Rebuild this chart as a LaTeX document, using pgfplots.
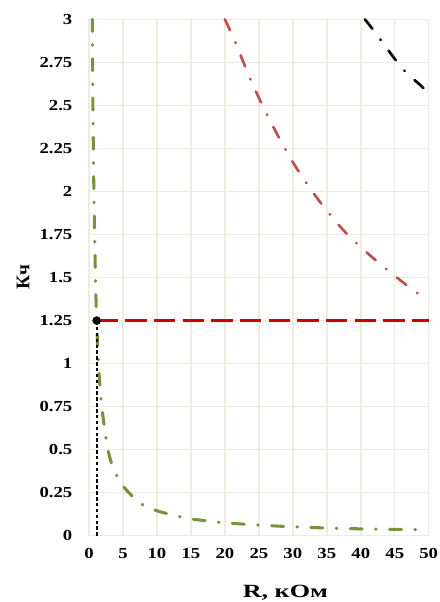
\documentclass[border=0pt]{standalone}
\usepackage{fontspec}
\setmainfont{Liberation Serif}
\newfontfamily\tickfont{Liberation Serif}[FakeStretch=1.22]
\newfontfamily\labfont{Liberation Serif}[FakeStretch=1.4]
\usepackage{pgfplots}
\pgfplotsset{compat=1.18}
\definecolor{gridc}{HTML}{EEECE1}
\definecolor{olive}{HTML}{77933C}
\definecolor{redc}{HTML}{C0504D}
\definecolor{dred}{HTML}{D00000}
\begin{document}
\begin{tikzpicture}
\path[use as bounding box] (-66.75pt,-49.7pt) rectangle (262.5pt,401.8pt);
\begin{axis}[
  scale only axis,
  width=254.8pt, height=387.3pt,
  xmin=0, xmax=50, ymin=0, ymax=3,
  xtick={0,5,...,50},
  xticklabels={0,5,10,15,20,25,30,35,40,45,50},
  ytick={0,0.25,...,3},
  yticklabels={0,0.25,0.5,0.75,1,1.25,1.5,1.75,2,2.25,2.5,2.75,3},
  grid=major,
  major grid style={gridc, line width=1.1pt},
  axis line style={gridc, line width=1.1pt},
  major tick length=0pt,
  /pgf/number format/assume math mode=true,
  yticklabel style={xshift=-9pt, font=\fontsize{11.5}{12}\tickfont\bfseries},
  xticklabel style={yshift=-6pt, font=\fontsize{11.5}{12}\tickfont\bfseries},
  xlabel={R, кОм},
  ylabel={Кч},
  xlabel style={font=\fontsize{14}{15}\labfont\bfseries, at={(axis description cs:0.578,0)}, anchor=center, yshift=-43pt},
  ylabel style={font=\fontsize{14.5}{15}\selectfont\bfseries, at={(axis description cs:0,0.5)}, anchor=center, rotate=0, yshift=49.5pt},
  clip=false,
]
% green curve
\addplot[olive, line width=2.3pt, line cap=round, dash pattern=on 9pt off 10pt on 0.5pt off 10pt, smooth, tension=0.5] coordinates {
(0.5,3.0) (0.58,2.5) (0.72,2.0) (0.95,1.5) (1.13,1.25) (1.4,1.0) (1.8,0.78) (2.65,0.53) (3.5,0.40) (5,0.29) (7.5,0.19) (10,0.145) (14,0.105) (16.5,0.09) (20,0.075) (25,0.062) (30,0.052) (35,0.045) (40,0.04) (45,0.037) (50,0.034)
};
% red curve
\addplot[redc, line width=2pt, line cap=round, dash pattern=on 9pt off 10pt on 0.5pt off 10pt, smooth] coordinates {
(20.0,3.0) (21.5,2.87) (24.0,2.63) (26.8,2.40) (30.0,2.17) (33.6,1.96) (37.8,1.76) (42.5,1.59) (47.6,1.43) (50,1.37)
};
% black curve
\addplot[black, line width=2pt, line cap=round, dash pattern=on 9pt off 10pt on 0.5pt off 10pt, smooth] coordinates {
(40.6,3.0) (42.0,2.93) (46.0,2.72) (48.7,2.62) (50,2.57)
};
% horizontal red dashed
\addplot[dred, line width=1.8pt, dash pattern=on 16pt off 5.5pt] coordinates {(1.13,1.25) (50,1.25)};
% vertical black dotted
\addplot[black, line width=1.5pt, dash pattern=on 2.6pt off 1.8pt] coordinates {(1.13,0) (1.13,1.25)};
% marker
\addplot[only marks, mark=*, mark size=3pt, black] coordinates {(1.13,1.25)};
\end{axis}
\end{tikzpicture}
\end{document}
